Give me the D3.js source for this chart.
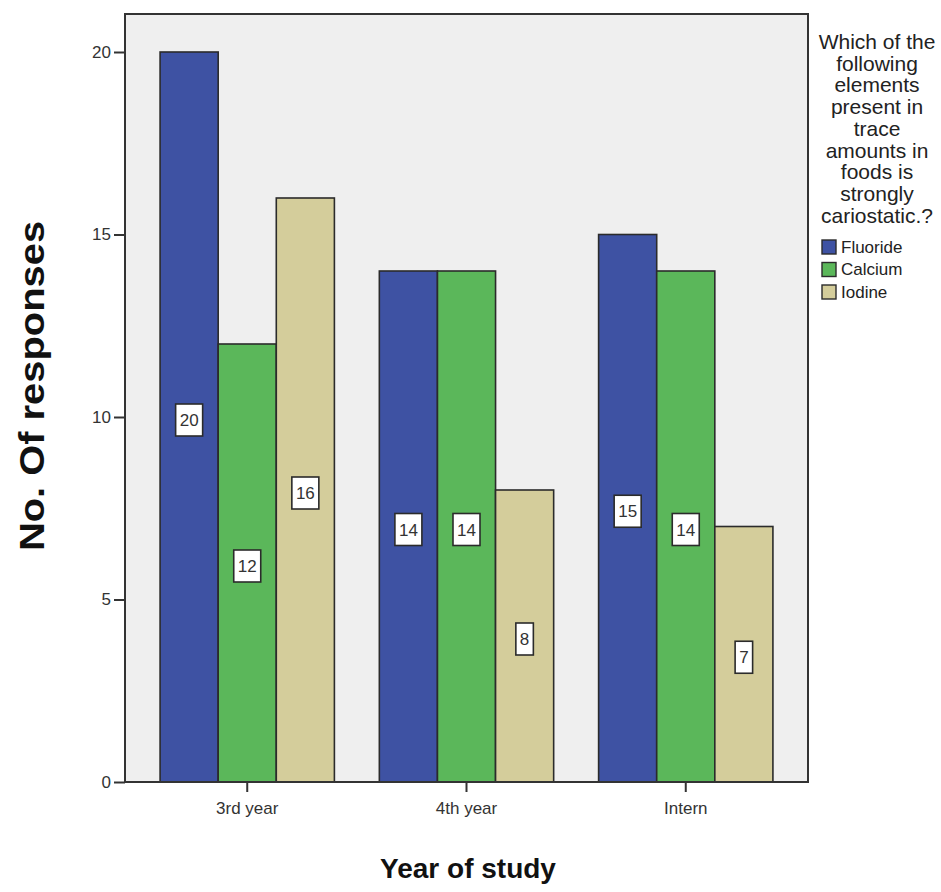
<!DOCTYPE html>
<html>
<head>
<meta charset="utf-8">
<script src="https://cdn.jsdelivr.net/npm/d3@7"></script>
<style>
  html, body { margin: 0; padding: 0; background: #ffffff; }
  svg { display: block; font-family: "Liberation Sans", Arial, sans-serif; }
</style>
</head>
<body>
<svg id="chart" width="941" height="892"></svg>
<script>
// Responses per year of study, grouped by chosen element
const years = ["3rd year", "4th year", "Intern"];
const elements = ["Fluoride", "Calcium", "Iodine"];
const fluoride = [20, 14, 15];
const calcium = [12, 14, 14];
const iodine = [16, 8, 7];
const yTicks = [0, 5, 10, 15, 20];
const legendTitle = ["Which of the", "following", "elements", "present in", "trace",
                     "amounts in", "foods is", "strongly", "cariostatic.?"];
const colors = ["#3e52a3", "#5bb75a", "#d4cd9b"];

const series = [fluoride, calcium, iodine];
const rows = years.map((yr, i) => ({
  year: yr,
  values: elements.map((el, j) => ({ element: el, value: series[j][i] }))
}));

const svg = d3.select("#chart");
const plot = { left: 125, right: 808, top: 14, bottom: 782 };

const y = d3.scaleLinear().domain([0, 20]).range([plot.bottom, 52]);
const x0 = d3.scaleBand().domain(years).range([plot.left, plot.right])
  .paddingInner(0.205).paddingOuter(0.16);
const x1 = d3.scaleBand().domain(elements).range([0, x0.bandwidth()]);
const color = d3.scaleOrdinal().domain(elements).range(colors);

// plot background
svg.append("rect")
  .attr("x", plot.left).attr("y", plot.top)
  .attr("width", plot.right - plot.left).attr("height", plot.bottom - plot.top)
  .attr("fill", "#efefef");

// bars
const groups = svg.append("g").selectAll("g").data(rows).join("g")
  .attr("transform", d => `translate(${x0(d.year)},0)`);

groups.selectAll("rect").data(d => d.values).join("rect")
  .attr("x", d => x1(d.element))
  .attr("y", d => y(d.value))
  .attr("width", x1.bandwidth())
  .attr("height", d => y(0) - y(d.value))
  .attr("fill", d => color(d.element))
  .attr("stroke", "#2b2b2b")
  .attr("stroke-width", 1.6);

// value labels in boxes at mid-height
const labels = groups.selectAll("g.lbl").data(d => d.values).join("g")
  .attr("class", "lbl")
  .attr("transform", d => `translate(${x1(d.element) + x1.bandwidth() / 2},${y(d.value / 2) + 3})`);

labels.append("rect")
  .attr("x", d => -(String(d.value).length * 9.5 + 8) / 2)
  .attr("y", -16)
  .attr("width", d => String(d.value).length * 9.5 + 8)
  .attr("height", 32)
  .attr("fill", "#ffffff")
  .attr("stroke", "#2b2b2b")
  .attr("stroke-width", 1.6);

labels.append("text")
  .attr("text-anchor", "middle")
  .attr("dy", "0.36em")
  .attr("font-size", 17)
  .attr("fill", "#333")
  .text(d => d.value);

// frame
svg.append("rect")
  .attr("x", plot.left).attr("y", plot.top)
  .attr("width", plot.right - plot.left).attr("height", plot.bottom - plot.top)
  .attr("fill", "none")
  .attr("stroke", "#333")
  .attr("stroke-width", 2);

// y axis
const yAxis = svg.append("g")
  .attr("transform", `translate(${plot.left},0)`)
  .call(d3.axisLeft(y).tickValues(yTicks).tickSize(11).tickPadding(3).tickFormat(d3.format("d")));
yAxis.select(".domain").remove();
yAxis.selectAll("line").attr("stroke", "#333").attr("stroke-width", 2);
yAxis.selectAll("text").attr("font-size", 17).attr("fill", "#333").attr("font-family", "Liberation Sans, Arial, sans-serif");

// x axis
const xAxis = svg.append("g")
  .attr("transform", `translate(0,${plot.bottom})`)
  .call(d3.axisBottom(x0).tickSize(10).tickPadding(10));
xAxis.select(".domain").remove();
xAxis.selectAll("line").attr("stroke", "#333").attr("stroke-width", 2);
xAxis.selectAll("text").attr("font-size", 17).attr("fill", "#333").attr("font-family", "Liberation Sans, Arial, sans-serif");

// axis titles
svg.append("text")
  .attr("x", 468).attr("y", 878)
  .attr("text-anchor", "middle")
  .attr("font-size", 28).attr("font-weight", "bold").attr("fill", "#111")
  .text("Year of study");

svg.append("text")
  .attr("transform", "translate(44,386) rotate(-90) scale(1.14,1)")
  .attr("text-anchor", "middle")
  .attr("font-size", 35).attr("font-weight", "bold").attr("fill", "#111")
  .text("No. Of responses");

// legend
const legend = svg.append("g");
legend.selectAll("text.title").data(legendTitle).join("text")
  .attr("class", "title")
  .attr("x", 877)
  .attr("y", (d, i) => 49 + i * 21.7)
  .attr("text-anchor", "middle")
  .attr("font-size", 21).attr("fill", "#222")
  .text(d => d);

const items = legend.selectAll("g.item").data(elements).join("g")
  .attr("class", "item")
  .attr("transform", (d, i) => `translate(822,${240 + i * 22.5})`);
items.append("rect")
  .attr("width", 14).attr("height", 14)
  .attr("fill", d => color(d))
  .attr("stroke", "#2b2b2b").attr("stroke-width", 1.4);
items.append("text")
  .attr("x", 19).attr("y", 7).attr("dy", "0.35em")
  .attr("font-size", 17).attr("fill", "#222")
  .text(d => d);
</script>
</body>
</html>
